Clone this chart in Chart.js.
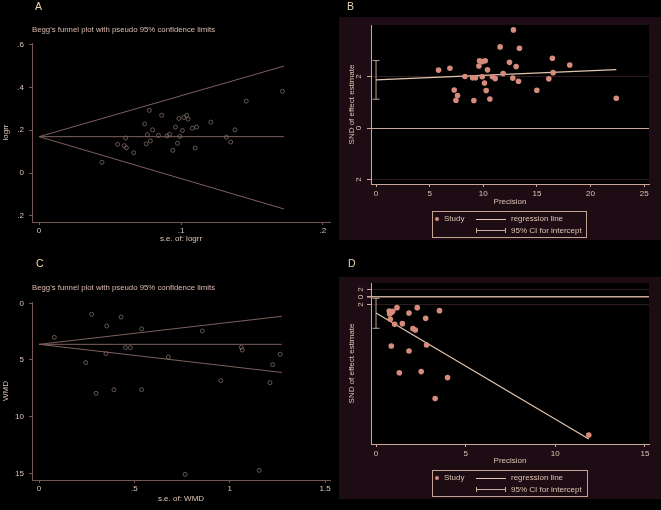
<!DOCTYPE html>
<html>
<head>
<meta charset="utf-8">
<script src="https://cdn.jsdelivr.net/npm/chart.js@4.4.1/dist/chart.umd.min.js"></script>
<style>
  body { margin:0; background:#000; width:661px; height:510px; position:relative; overflow:hidden;
         font-family:'Liberation Sans', Arial, Helvetica, sans-serif; }
  canvas { position:absolute; }
  .t, .lg { will-change:transform; -webkit-font-smoothing:antialiased; }
  .t { position:absolute; white-space:nowrap; }
  .letter { font-size:10.5px; line-height:12px; color:#ecd5ae; }
  .ptitle { font-size:7.8px; line-height:10px; color:#dcbab0; }
  .maroon { position:absolute; background:#1d0c13; }
  .lgbox { position:absolute; border:1px solid #c4a594; box-sizing:border-box; }
  .lg { position:absolute; white-space:nowrap; font-size:8px; line-height:10px; color:#dcc3b2; }
  .dot { position:absolute; width:4.5px; height:4.5px; border-radius:50%; background:#d68b7c; }
  .seg { position:absolute; height:0; border-top:1px solid #e2c6b0; }
  .cap { position:absolute; width:0; height:5px; border-left:1px solid #c8ae9e; }
</style>
</head>
<body>
<div class="maroon" style="left:339px;top:17px;width:322px;height:223px"></div>
<div class="maroon" style="left:339px;top:277px;width:322px;height:222px"></div>

<div class="t letter" style="left:35px;top:0px">A</div>
<div class="t letter" style="left:347px;top:0px">B</div>
<div class="t letter" style="left:35.5px;top:257px">C</div>
<div class="t letter" style="left:347.5px;top:257px">D</div>
<div class="t ptitle" style="left:32px;top:25px">Begg's funnel plot with pseudo 95% confidence limits</div>
<div class="t ptitle" style="left:32px;top:283px">Begg's funnel plot with pseudo 95% confidence limits</div>

<canvas id="cA" width="336" height="250" style="left:0;top:0"></canvas>
<canvas id="cB" width="331" height="250" style="left:330px;top:0"></canvas>
<canvas id="cC" width="336" height="260" style="left:0;top:250px"></canvas>
<canvas id="cD" width="331" height="260" style="left:330px;top:250px"></canvas>

<!-- legend B -->
<div class="lgbox" style="left:432px;top:211px;width:155px;height:27px"></div>
<div class="dot" style="left:434.5px;top:216.8px"></div>
<div class="lg" style="left:443.5px;top:214px">Study</div>
<div class="seg" style="left:476px;top:218.5px;width:30px"></div>
<div class="lg" style="left:511px;top:214px">regression line</div>
<div class="seg" style="left:476px;top:230px;width:30px;border-color:#c8ae9e"></div>
<div class="cap" style="left:476px;top:228px"></div>
<div class="cap" style="left:505px;top:228px"></div>
<div class="lg" style="left:511px;top:225.5px">95% CI for intercept</div>

<!-- legend D -->
<div class="lgbox" style="left:432px;top:470px;width:156px;height:27px"></div>
<div class="dot" style="left:434.5px;top:475.8px"></div>
<div class="lg" style="left:443.5px;top:473px">Study</div>
<div class="seg" style="left:476px;top:477.5px;width:30px"></div>
<div class="lg" style="left:511px;top:473px">regression line</div>
<div class="seg" style="left:476px;top:489px;width:30px;border-color:#c8ae9e"></div>
<div class="cap" style="left:476px;top:487px"></div>
<div class="cap" style="left:505px;top:487px"></div>
<div class="lg" style="left:511px;top:484.5px">95% CI for intercept</div>

<script>
// ---- panel A: Begg's funnel, logrr
const seLogrr = [0.0443,0.0553,0.0600,0.0615,0.0610,0.0667,0.0744,0.0754,0.0763,0.0777,0.0784,0.0800,0.0841,0.0864,0.0902,0.0919,0.0942,0.0961,0.0975,0.0985,0.0992,0.1010,0.1020,0.1040,0.1050,0.1080,0.1100,0.1110,0.1210,0.1320,0.1350,0.1380,0.1460,0.1715];
const logrr   = [0.050,0.134,0.128,0.118,0.164,0.095,0.230,0.136,0.179,0.293,0.150,0.202,0.176,0.270,0.173,0.181,0.106,0.215,0.139,0.255,0.171,0.199,0.260,0.270,0.252,0.210,0.117,0.215,0.238,0.168,0.145,0.202,0.336,0.382];
const funnelSeA = [0, 0.1725];
const centerA = [0.17, 0.17];
const upperA = [0.17, 0.50];
const lowerA = [0.17, -0.168];
const aXTicks = [0, 0.1, 0.2];
const aXLabels = ['0', '.1', '.2'];
const aYTicks = [-0.2, 0, 0.2, 0.4, 0.6];
const aYLabels = ['.2', '0', '.2', '.4', '.6'];

// ---- panel B: Egger, logrr
const precB = [5.83,6.89,7.29,7.45,7.60,8.29,9.00,9.12,9.27,9.59,9.65,9.90,9.90,10.11,10.18,10.27,10.39,10.61,10.86,11.11,11.57,11.85,12.44,12.75,12.81,13.06,13.28,13.37,14.99,16.11,16.44,16.51,18.06,22.40];
const sndB  = [2.25,2.32,1.48,1.08,1.26,2.00,1.95,1.07,1.95,2.41,2.61,2.58,1.99,1.75,2.61,1.46,2.26,1.13,1.99,1.92,3.15,2.12,2.55,1.94,3.81,2.39,1.82,3.10,1.47,1.91,2.71,2.15,2.45,1.16];
const regXB = [0, 22.4];
const regYB = [1.87, 2.27];
const ciB = [1.12, 2.62];
const bXTicks = [0, 5, 10, 15, 20, 25];
const bYTicks = [-2, 0, 2];
const bYLabels = ['2', '0', '2'];

// ---- panel C: Begg's funnel, WMD
const seWmd = [0.080,0.245,0.276,0.299,0.355,0.351,0.393,0.430,0.453,0.479,0.538,0.538,0.678,0.766,0.856,0.953,1.061,1.066,1.155,1.211,1.225,1.265];
const wmd   = [3.00,5.23,0.97,7.94,2.00,4.44,7.62,1.21,3.91,3.91,2.26,7.62,4.74,15.09,2.44,6.82,3.88,4.12,14.74,7.00,5.41,4.50];
const funnelSeC = [0, 1.273];
const centerC = [3.62, 3.62];
const upperC = [3.62, 1.15];
const lowerC = [3.62, 6.10];
const cXTicks = [0, 0.5, 1, 1.5];
const cXLabels = ['0', '.5', '1', '1.5'];
const cYTicks = [0, 5, 10, 15];

// ---- panel D: Egger, WMD
const precD = [0.74,0.85,0.93,0.76,0.80,1.04,1.17,0.85,1.30,1.47,1.84,1.84,2.06,2.19,2.30,2.52,2.77,2.82,3.30,3.54,3.99,11.87];
const sndD  = [-3.73,-4.18,-3.82,-4.53,-5.95,-7.29,-2.84,-13.07,-20.2,-7.11,-4.27,-14.4,-8.44,-8.8,-2.84,-19.9,-5.69,-12.8,-27.1,-3.64,-21.5,-36.8];
const regXD = [0, 11.87];
const regYD = [-4.27, -37.87];
const ciD = [-8.35, -0.35];
const dXTicks = [0, 5, 10, 15];
const dYTicks = [-2, 0, 2];
const dYLabels = ['2', '0', '2'];

// colours
const tickCol = '#dcc4b4';
const dimAxis = '#755654';
const funnelCol = '#7f605e';
const hollowCol = '#806a6a';
const tanAxis = '#c9a897';
const dotCol = '#d68b7c';
const regCol = '#e2c6b0';
const ciCol = '#b8a090';
const gridDim = '#2c1c1f';

Chart.defaults.font.family = "'Liberation Sans', Arial, Helvetica, sans-serif";
Chart.defaults.font.size = 8;
Chart.defaults.animation = false;

const pts = (xs, ys) => xs.map((x, i) => ({ x: x, y: ys[i] }));
const setTicks = vals => s => { s.ticks = vals.map(v => ({ value: v })); };

const plotBg = {
  id: 'plotBg',
  beforeDraw(c) {
    const { ctx, chartArea: a } = c;
    ctx.save();
    ctx.fillStyle = '#000';
    ctx.fillRect(a.left, a.top, a.right - a.left, a.bottom - a.top);
    ctx.restore();
  }
};

function lineSet(xs, ys, color, width) {
  return { data: pts(xs, ys), showLine: true, pointRadius: 0, borderColor: color, borderWidth: width };
}

function funnelChart(id, o) {
  new Chart(document.getElementById(id), {
    type: 'scatter',
    data: {
      datasets: [
        lineSet(o.se, o.center, funnelCol, 1),
        lineSet(o.se, o.upper, funnelCol, 1),
        lineSet(o.se, o.lower, funnelCol, 1),
        { data: pts(o.x, o.y), pointStyle: 'circle', pointRadius: 2, borderWidth: 0.8,
          borderColor: hollowCol, backgroundColor: 'rgba(0,0,0,0)' }
      ]
    },
    options: {
      responsive: false,
      layout: { padding: { left: 0, top: o.top, right: 6, bottom: o.bottom } },
      plugins: { legend: { display: false }, tooltip: { enabled: false } },
      scales: {
        x: {
          type: 'linear', min: o.xmin, max: o.xmax,
          afterBuildTicks: setTicks(o.xTicks), afterFit: s => { s.height = 28; },
          ticks: { callback: (v, i) => o.xLabels[i], color: tickCol, padding: 1, autoSkip: false, maxRotation: 0 },
          grid: { display: true, drawOnChartArea: false, drawTicks: true, tickLength: 3, color: dimAxis },
          border: { display: true, color: dimAxis, width: 1 },
          title: { display: true, text: o.xTitle, color: tickCol, padding: { top: 0, bottom: o.xtPad } }
        },
        y: {
          type: 'linear', min: o.ymin, max: o.ymax, reverse: !!o.reverse,
          afterBuildTicks: setTicks(o.yTicks), afterFit: s => { s.width = 32; },
          ticks: { callback: (v, i) => o.yLabels[i], color: tickCol, padding: 5, autoSkip: false },
          grid: { display: true, drawOnChartArea: false, drawTicks: true, tickLength: 3, color: dimAxis },
          border: { display: true, color: dimAxis, width: 1 },
          title: { display: true, text: o.yTitle, color: tickCol, padding: { top: 1.2, bottom: 0 } }
        }
      }
    }
  });
}

function eggerChart(id, o) {
  new Chart(document.getElementById(id), {
    type: 'scatter',
    data: {
      datasets: [
        { data: pts(o.x, o.y), pointStyle: 'circle', pointRadius: 2.8, borderWidth: 0,
          backgroundColor: dotCol },
        lineSet(o.regX, o.regY, regCol, 1.2),
        { data: [{ x: 0, y: o.ci[0] }, { x: 0, y: o.ci[1] }], showLine: true, borderColor: ciCol, borderWidth: 1,
          pointStyle: 'line', pointRadius: 3.5, pointBorderColor: ciCol, pointBorderWidth: 1 }
      ]
    },
    options: {
      responsive: false,
      layout: { padding: { left: 0, top: o.top, right: 12, bottom: 40 } },
      plugins: { legend: { display: false }, tooltip: { enabled: false } },
      scales: {
        x: {
          type: 'linear', min: o.xmin, max: o.xmax,
          afterBuildTicks: setTicks(o.xTicks), afterFit: s => { s.height = 26; },
          ticks: { color: tickCol, padding: 1.5, autoSkip: false, maxRotation: 0 },
          grid: { display: true, drawOnChartArea: false, drawTicks: true, tickLength: 3, color: tanAxis },
          border: { display: true, color: tanAxis, width: 1 },
          title: { display: true, text: 'Precision', color: tickCol, padding: { top: 0, bottom: o.xtPad } }
        },
        y: {
          type: 'linear', min: o.ymin, max: o.ymax,
          afterBuildTicks: setTicks(o.yTicks), afterFit: s => { s.width = 41; },
          ticks: { callback: (v, i) => o.yLabels[i], color: tickCol, padding: o.ytPad, autoSkip: false,
                   minRotation: 90, maxRotation: 90, crossAlign: 'center' },
          grid: { display: true, drawOnChartArea: true, drawTicks: true, tickLength: 4,
                  color: c => (c.tick && c.tick.value === 0) ? tanAxis : gridDim,
                  lineWidth: c => (c.tick && c.tick.value === 0) ? o.zeroW : 1,
                  tickColor: tanAxis },
          border: { display: true, color: tanAxis, width: 1 },
          title: { display: true, text: 'SND of effect estimate', color: tickCol, padding: { top: 16.5, bottom: 0 } }
        }
      }
    },
    plugins: [plotBg]
  });
}

funnelChart('cA', {
  x: seLogrr, y: logrr, se: funnelSeA, center: centerA, upper: upperA, lower: lowerA,
  top: 43, bottom: 0, xmin: -0.005, xmax: 0.205, ymin: -0.229, ymax: 0.608,
  xTicks: aXTicks, xLabels: aXLabels, yTicks: aYTicks, yLabels: aYLabels,
  xTitle: 's.e. of: logrr', yTitle: 'logrr', xtPad: 6.2
});

funnelChart('cC', {
  x: seWmd, y: wmd, se: funnelSeC, center: centerC, upper: upperC, lower: lowerC,
  top: 52, bottom: 2, xmin: -0.037, xmax: 1.526, ymin: -0.115, ymax: 15.59, reverse: true,
  xTicks: cXTicks, xLabels: cXLabels, yTicks: cYTicks, yLabels: cYTicks.map(String),
  xTitle: 's.e. of: WMD', yTitle: 'WMD', xtPad: 4.9
});

eggerChart('cB', {
  x: precB, y: sndB, regX: regXB, regY: regYB, ci: ciB,
  top: 25, xmin: -0.47, xmax: 25.45, ymin: -2.17, ymax: 4.0,
  xTicks: bXTicks, yTicks: bYTicks, yLabels: bYLabels, xtPad: 3.5, ytPad: 5.5, zeroW: 1
});

eggerChart('cD', {
  x: precD, y: sndD, regX: regXD, regY: regYD, ci: ciD,
  top: 33, xmin: -0.28, xmax: 15.23, ymin: -39.2, ymax: 3.73,
  xTicks: dXTicks, yTicks: dYTicks, yLabels: dYLabels, xtPad: 4.2, ytPad: 4, zeroW: 1.6
});
</script>
</body>
</html>
